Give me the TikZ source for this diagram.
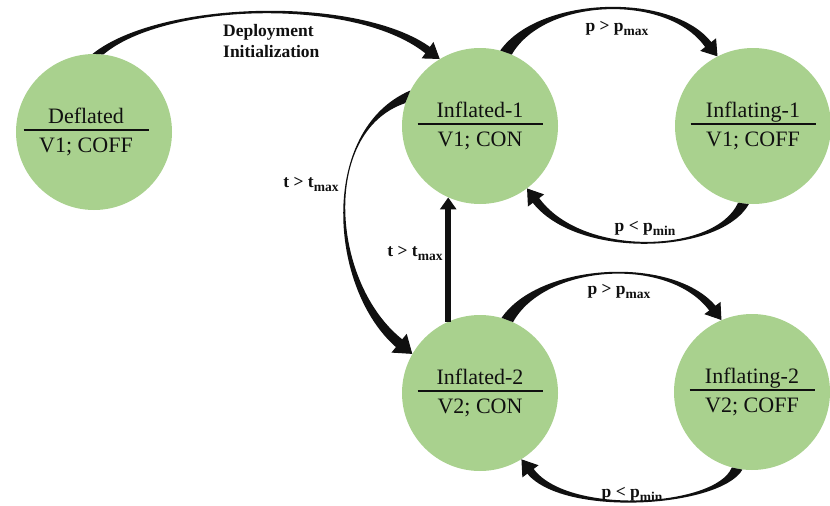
\documentclass[tikz,border=0pt]{standalone}
\usepackage{fontspec}
\setmainfont{Liberation Serif}
\usetikzlibrary{calc,arrows.meta}
\definecolor{stgreen}{HTML}{A9D18E}
\definecolor{ink}{HTML}{101010}
\newcommand{\statetext}[2]{\vbox{\offinterlineskip\hsize=125pt
  \hbox to\hsize{\hss\raisebox{0pt}[\height][0pt]{#1}\hss}\kern5pt
  \hrule height 2pt\kern7pt
  \hbox to\hsize{\hss#2\hss}}}
\newcommand{\subx}[1]{\raisebox{-4pt}{\fontsize{13.5}{13.5}\selectfont #1}}
\tikzset{
  state/.style={circle, fill=stgreen, minimum size=156pt, inner sep=0pt,
    font=\fontsize{22}{24}\selectfont, text=ink},
  lbl/.style={font=\bfseries\fontsize{17.5}{21}\selectfont, text=ink, inner sep=0pt},
  ribbon/.style={fill=ink},
  headS/.style={-{Triangle[width=20pt,length=15pt]}, draw=ink, line width=1pt},
  headL/.style={-{Triangle[width=24pt,length=17pt]}, draw=ink, line width=1pt},
  straight/.style={-{Triangle[width=16pt,length=12pt]}, draw=ink, line width=5.5pt}
}
\begin{document}
\begin{tikzpicture}[x=1pt,y=-1pt]
\useasboundingbox (0,0) rectangle (830,506);
% states
\node[state] (d)  at (94,132)  {\hbox{\statetext{Deflated}{V1; COFF}\kern16pt}};
\node[state] (i1) at (480,126) {\statetext{Inflated-1}{V1; CON}};
\node[state] (g1) at (753,126) {\statetext{Inflating-1}{V1; COFF}};
\node[state] (i2) at (480,393) {\statetext{Inflated-2}{V2; CON}};
\node[state] (g2) at (752,392) {\statetext{Inflating-2}{V2; COFF}};
% Deflated -> Inflated-1
\fill[ribbon] (d.91) .. controls (160,0) and (360,-5) .. (431.7,48.2)
  -- (426.9,54.6) .. controls (358,-3) and (166,2) .. (d.83) -- cycle;
\draw[headS] (419.5,44.4) -- (i1.121);
% Inflated-1 -> Inflating-1
\fill[ribbon] (i1.75) .. controls (540,-5) and (675,-8) .. (712.6,43.9)
  -- (706.4,48.9) .. controls (670,-7) and (545,-3) .. (i1.66) -- cycle;
\draw[headS] (702.1,37.0) -- (g1.117);
% Inflating-1 -> Inflated-1
\fill[ribbon] (g1.-93) .. controls (720,255) and (575,260) .. (531.5,201.1)
  -- (537.9,196.3) .. controls (580,258) and (715,254) .. (g1.-101) -- cycle;
\draw[headS] (541.9,208.3) -- (i1.-53);
% Inflated-2 -> Inflating-2
\fill[ribbon] (i2.74) .. controls (540,262) and (675,255) .. (716.9,307.4)
  -- (710.5,312.2) .. controls (670,255) and (545,264) .. (i2.65) -- cycle;
\draw[headS] (706.5,300.2) -- (g2.113);
% Inflating-2 -> Inflated-2
\fill[ribbon] (g2.-97) .. controls (720,508) and (560,518) .. (525.9,471.9)
  -- (532.3,467.1) .. controls (565,516) and (716,507) .. (g2.-105) -- cycle;
\draw[headS] (536.3,479.1) -- (i2.-58);
% Inflated-1 -> Inflated-2
\fill[ribbon] (i1.153) .. controls (318,130) and (328,290) .. (397.6,348.5)
  -- (404.0,340.7) .. controls (331,285) and (320,132) .. (i1.163) -- cycle;
\draw[headL] (390.7,336.4) -- (i2.150);
% Inflated-2 -> Inflated-1
\draw[straight] (i2.114) -- (i1.-114);
% labels
\node[lbl, anchor=north west, align=left] (l1) at (223,24) {Deployment\\Initialization};
\node[lbl] (l2) at (617,28)  {p > p\subx{max}};
\node[lbl] (l3) at (645,228) {p < p\subx{min}};
\node[lbl] (l4) at (619,291) {p > p\subx{max}};
\node[lbl] (l5) at (632,494) {p < p\subx{min}};
\node[lbl] (l6) at (311,184) {t > t\subx{max}};
\node[lbl] (l7) at (415,253) {t > t\subx{max}};
\end{tikzpicture}
\end{document}
